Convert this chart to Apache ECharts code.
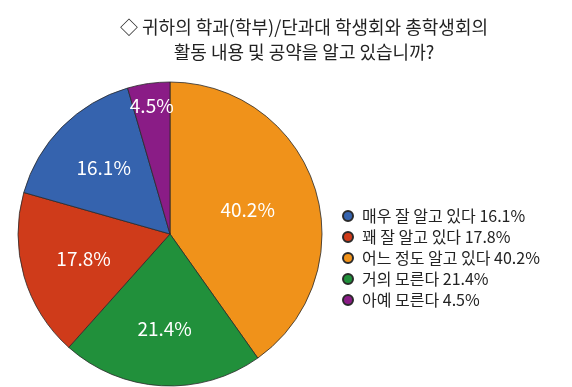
<!DOCTYPE html>
<html>
<head>
<meta charset="utf-8">
<script src="https://cdn.jsdelivr.net/npm/echarts@6/dist/echarts.min.js"></script>
<style>html,body{margin:0;padding:0;background:#fff}#c{width:572px;height:387px}</style>
</head>
<body>
<div id="c"></div>
<script>
// Data (slice order clockwise from top)
const categories = ['어느 정도 알고 있다', '거의 모른다', '꽤 잘 알고 있다', '매우 잘 알고 있다', '아예 모른다'];
const values = [40.2, 21.4, 17.8, 16.1, 4.5];
const legendOrder = ['매우 잘 알고 있다', '꽤 잘 알고 있다', '어느 정도 알고 있다', '거의 모른다', '아예 모른다'];
const colors = ['#F0921A', '#21903B', '#CF3B1A', '#3563AE', '#8A1C86'];
const titleText = '◇ 귀하의 학과(학부)/단과대 학생회와 총학생회의\n활동 내용 및 공약을 알고 있습니까?';

// label placement: outer radius of transparent helper pies (label sits at half of it)
const labelRadius = [157, 183, 174, 181, 253];

const FONT = '"Noto Sans CJK KR", "Noto Sans", sans-serif';
const center = [170, 234];

const pieData = categories.map((c, i) => ({ name: c, value: values[i], itemStyle: { color: colors[i] } }));

const series = [{
  type: 'pie',
  center: center,
  radius: [0, 152],
  startAngle: 90,
  clockwise: true,
  silent: true,
  label: { show: false },
  labelLine: { show: false },
  itemStyle: { borderColor: '#2a2a2a', borderWidth: 0.8 },
  emphasis: { disabled: true },
  data: pieData
}];

categories.forEach((c, i) => {
  series.push({
    type: 'pie',
    center: center,
    radius: [0, labelRadius[i]],
    startAngle: 90,
    clockwise: true,
    silent: true,
    z: 5,
    emphasis: { disabled: true },
    itemStyle: { color: 'rgba(0,0,0,0)', borderWidth: 0 },
    labelLine: { show: false },
    label: { show: false },
    data: categories.map((cc, j) => ({
      name: cc,
      value: values[j],
      label: j === i ? {
        show: true, position: 'inside', formatter: values[j].toFixed(1) + '%',
        color: '#fff', fontSize: 19, fontFamily: FONT
      } : { show: false }
    }))
  });
});

const chart = echarts.init(document.getElementById('c'), null, { renderer: 'canvas' });
chart.setOption({
  backgroundColor: '#fff',
  animation: false,
  title: {
    text: titleText,
    left: 304,
    top: 15,
    textAlign: 'center',
    padding: 0,
    textStyle: { fontFamily: FONT, fontSize: 18, fontWeight: 'normal', color: '#222', lineHeight: 25 }
  },
  legend: {
    orient: 'vertical',
    left: 342,
    top: 208,
    padding: 0,
    itemWidth: 10,
    itemHeight: 10,
    itemGap: 5,
    icon: 'circle',
    data: legendOrder,
    formatter: function (name) {
      const idx = categories.indexOf(name);
      return name + ' ' + values[idx].toFixed(1) + '%';
    },
    textStyle: { fontFamily: FONT, fontSize: 16, color: '#222', lineHeight: 15, padding: [0, 0, 0, 4] },
    selectedMode: false
  },
  series: series
});
</script>
</body>
</html>
